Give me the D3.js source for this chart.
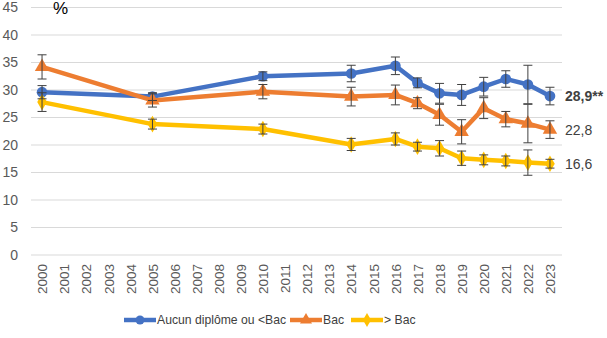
<!DOCTYPE html>
<html>
<head>
<meta charset="utf-8">
<script src="https://cdn.jsdelivr.net/npm/d3@7"></script>
<style>
  body { margin: 0; background: #fff; }
  svg { font-family: "Liberation Sans", Arial, sans-serif; }
</style>
</head>
<body>
<svg width="607" height="338"></svg>
<script>
// categories on the x axis
var years = d3.range(2000, 2024);
var yTicks = [0, 5, 10, 15, 20, 25, 30, 35, 40, 45];

// survey years actually measured
var dataYears = [2000, 2005, 2010, 2014, 2016, 2017, 2018, 2019, 2020, 2021, 2022, 2023];

var aucun    = [29.6, 28.8, 32.5, 33.0, 34.4, 31.3, 29.4, 29.1, 30.6, 32.0, 31.0, 28.9];
var aucunErr = [1.2, 0.7, 0.8, 1.5, 1.6, 0.9, 1.8, 1.9, 1.7, 1.5, 3.5, 1.6];

var bac      = [34.2, 28.1, 29.7, 28.8, 29.1, 27.6, 25.5, 22.4, 26.7, 24.7, 23.9, 22.8];
var bacErr   = [2.2, 1.2, 1.3, 1.7, 1.8, 1.0, 1.9, 2.2, 1.9, 1.4, 3.5, 1.6];

var supBac    = [27.8, 23.8, 22.9, 20.1, 21.1, 19.7, 19.4, 17.6, 17.3, 17.1, 16.8, 16.6];
var supBacErr = [1.7, 0.9, 0.9, 1.1, 1.1, 0.8, 1.4, 1.3, 0.9, 0.9, 2.3, 0.8];

var seriesNames = ["Aucun diplôme ou <Bac", "Bac", "> Bac"];
var lastLabels = ["28,9**", "22,8", "16,6"];

var svg = d3.select("svg");

var x = d3.scalePoint()
    .domain(years)
    .range([31, 561])
    .padding(0.5);

var y = d3.scaleLinear()
    .domain([0, 45])
    .range([255, 7.5]);

var series = [
  {name: seriesNames[0], vals: aucun, err: aucunErr, color: "#4472C4", sym: d3.symbolCircle, size: 90, label: lastLabels[0], bold: true},
  {name: seriesNames[1], vals: bac, err: bacErr, color: "#ED7D31", sym: d3.symbolTriangle, size: 90, label: lastLabels[1], bold: false},
  {name: seriesNames[2], vals: supBac, err: supBacErr, color: "#FFC000", sym: d3.symbolDiamond, size: 80, label: lastLabels[2], bold: false}
];

// gridlines
svg.append("g").selectAll("line")
    .data(yTicks)
    .enter().append("line")
    .attr("x1", 31).attr("x2", 562)
    .attr("y1", function(d) { return y(d); })
    .attr("y2", function(d) { return y(d); })
    .attr("stroke", "#D9D9D9")
    .attr("stroke-width", 1);

// y axis labels
var yAxis = d3.axisLeft(y).tickValues(yTicks).tickSize(0).tickPadding(0);
var gy = svg.append("g")
    .attr("transform", "translate(18,0)")
    .call(yAxis);
gy.select(".domain").remove();
gy.selectAll("text")
    .attr("fill", "#595959")
    .style("font-size", "14px")
    .style("font-family", "Liberation Sans, Arial, sans-serif");

svg.append("text")
    .attr("x", 53).attr("y", 14)
    .attr("font-size", "17px")
    .attr("fill", "#000")
    .text("%");

// x axis labels
var xAxis = d3.axisBottom(x).tickSize(0).tickPadding(0);
var gx = svg.append("g")
    .attr("transform", "translate(0,264)")
    .call(xAxis);
gx.select(".domain").remove();
gx.selectAll("text")
    .attr("transform", "rotate(-90)")
    .attr("text-anchor", "end")
    .attr("dy", "0.35em")
    .attr("x", 0)
    .attr("y", 0)
    .attr("fill", "#595959")
    .style("font-size", "13.5px")
    .style("font-family", "Liberation Sans, Arial, sans-serif");

var line = d3.line()
    .x(function(d) { return x(d.year); })
    .y(function(d) { return y(d.v); });

series.forEach(function(s) {
  var pts = dataYears.map(function(yr, i) { return {year: yr, v: s.vals[i], e: s.err[i]}; });
  var g = svg.append("g");

  g.append("path")
      .datum(pts)
      .attr("fill", "none")
      .attr("stroke", s.color)
      .attr("stroke-width", 4.5)
      .attr("stroke-linejoin", "round")
      .attr("d", line);

  g.selectAll("path.mk")
      .data(pts)
      .enter().append("path")
      .attr("class", "mk")
      .attr("transform", function(d) { return "translate(" + x(d.year) + "," + y(d.v) + ")"; })
      .attr("d", d3.symbol().type(s.sym).size(s.size))
      .attr("fill", s.color);

  s.pts = pts;
});

// error bars on top
series.forEach(function(s) {
  var g = svg.append("g")
      .attr("stroke", "#404040")
      .attr("stroke-width", 1);
  g.selectAll("line.v")
      .data(s.pts)
      .enter().append("line")
      .attr("x1", function(d) { return x(d.year); })
      .attr("x2", function(d) { return x(d.year); })
      .attr("y1", function(d) { return y(d.v + d.e); })
      .attr("y2", function(d) { return y(d.v - d.e); });
  [1, -1].forEach(function(sign) {
    g.selectAll("line.c" + sign)
        .data(s.pts)
        .enter().append("line")
        .attr("x1", function(d) { return x(d.year) - 4.5; })
        .attr("x2", function(d) { return x(d.year) + 4.5; })
        .attr("y1", function(d) { return y(d.v + sign * d.e); })
        .attr("y2", function(d) { return y(d.v + sign * d.e); });
  });

  var last = s.pts[s.pts.length - 1];
  svg.append("text")
      .attr("x", 565)
      .attr("y", y(last.v))
      .attr("dy", "0.35em")
      .attr("font-size", "14px")
      .attr("font-weight", s.bold ? "bold" : "normal")
      .attr("fill", "#404040")
      .text(s.label);
});

// legend
var legendX = [124, 290, 351];
var legend = svg.append("g").attr("transform", "translate(0,320)");
series.forEach(function(s, i) {
  var lg = legend.append("g").attr("transform", "translate(" + legendX[i] + ",0)");
  lg.append("line")
      .attr("x1", 0).attr("x2", 32)
      .attr("stroke", s.color)
      .attr("stroke-width", 4.5);
  lg.append("path")
      .attr("transform", "translate(16,0)")
      .attr("d", d3.symbol().type(s.sym).size(s.size * 0.7))
      .attr("fill", s.color);
  lg.append("text")
      .attr("x", 33)
      .attr("dy", "0.35em")
      .attr("font-size", "12.2px")
      .attr("fill", "#404040")
      .text(s.name);
});
</script>
</body>
</html>
